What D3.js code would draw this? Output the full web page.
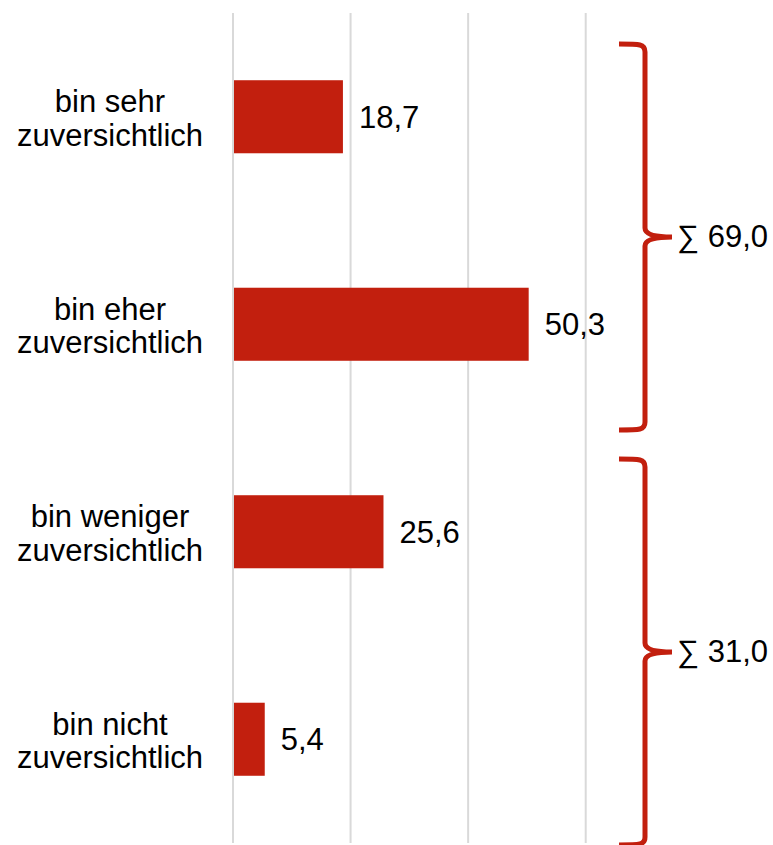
<!DOCTYPE html>
<html>
<head>
<meta charset="utf-8">
<script src="https://cdn.jsdelivr.net/npm/d3@7"></script>
<style>
  body { margin: 0; background: #fff; }
  text { font-family: "Liberation Sans", Arial, sans-serif; fill: #000; }
</style>
</head>
<body>
<script>
var width = 773,
    height = 845;

// data
var categories = [
  ["bin sehr", "zuversichtlich"],
  ["bin eher", "zuversichtlich"],
  ["bin weniger", "zuversichtlich"],
  ["bin nicht", "zuversichtlich"]
];
var values = [18.7, 50.3, 25.6, 5.4];
var ticks = [0, 20, 40, 60];
var groups = [
  { from: 0, to: 1, label: "\u2211 69,0" },
  { from: 2, to: 3, label: "\u2211 31,0" }
];

var fmt = function(v) { return d3.format(".1f")(v).replace(".", ","); };

var svg = d3.select("body").append("svg")
    .attr("width", width)
    .attr("height", height);

var x = d3.scaleLinear()
    .domain([0, 60])
    .range([233, 585.7]);

var y = d3.scaleBand()
    .domain(d3.range(categories.length))
    .range([13, 843])
    .paddingInner(0.648)
    .paddingOuter(0.324);

// gridlines
svg.append("g").selectAll("line")
    .data(ticks)
  .enter().append("line")
    .attr("x1", function(d) { return x(d); })
    .attr("x2", function(d) { return x(d); })
    .attr("y1", 13)
    .attr("y2", 843)
    .attr("stroke", "#d9d9d9")
    .attr("stroke-width", 2);

// bars
svg.append("g").selectAll("rect")
    .data(values)
  .enter().append("rect")
    .attr("x", x(0) + 1)
    .attr("y", function(d, i) { return y(i); })
    .attr("width", function(d) { return x(d) - x(0) - 1; })
    .attr("height", y.bandwidth())
    .attr("fill", "#c21f0e");

// value labels
svg.append("g").selectAll("text")
    .data(values)
  .enter().append("text")
    .attr("x", function(d) { return x(d) + 16; })
    .attr("y", function(d, i) { return y(i) + y.bandwidth() / 2 + 11; })
    .attr("font-size", 31)
    .text(fmt);

// category labels
var cat = svg.append("g").selectAll("text")
    .data(categories)
  .enter().append("text")
    .attr("text-anchor", "middle")
    .attr("font-size", 31);
cat.each(function(d, i) {
  var cy = y(i) + y.bandwidth() / 2;
  d3.select(this).selectAll("tspan")
      .data(d)
    .enter().append("tspan")
      .attr("x", 110)
      .attr("y", function(t, j) { return cy - 4.5 + j * 33.5; })
      .text(function(t) { return t; });
});

// braces
var bx0 = 619, bx1 = 645, bx2 = 672;
groups.forEach(function(g) {
  var y1 = y(g.from) - y.step() * y.paddingOuter() + 31,
      y2 = y(g.to) + y.bandwidth() + y.step() * y.paddingOuter() + 2,
      mid = (y1 + y2) / 2;
  var p = d3.path();
  p.moveTo(bx0, y1);
  p.bezierCurveTo(640, y1, bx1, y1, bx1, y1 + 8);
  p.lineTo(bx1, mid - 9);
  p.quadraticCurveTo(bx1, mid, bx2, mid);
  p.quadraticCurveTo(bx1, mid, bx1, mid + 9);
  p.lineTo(bx1, y2 - 8);
  p.bezierCurveTo(bx1, y2, 640, y2, bx0, y2);
  svg.append("path")
      .attr("d", p.toString())
      .attr("fill", "none")
      .attr("stroke", "#c21f0e")
      .attr("stroke-width", 5);
  svg.append("text")
      .attr("x", 677)
      .attr("y", mid + 10)
      .attr("font-size", 31)
      .text(g.label);
});
</script>
</body>
</html>
